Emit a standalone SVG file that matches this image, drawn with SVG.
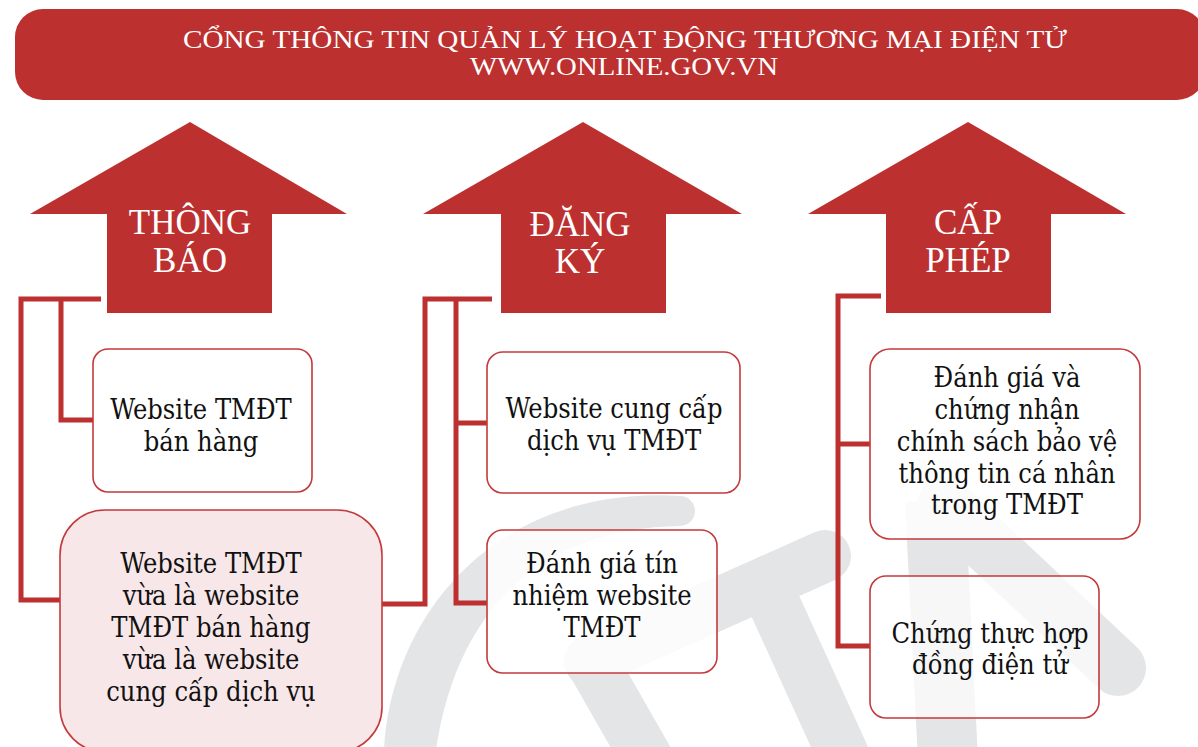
<svg xmlns="http://www.w3.org/2000/svg" width="1198" height="747" viewBox="0 0 1198 747">
<style>
.hd{font-family:"Liberation Serif","Times New Roman",serif;fill:#fff;font-size:26px;text-anchor:middle}
.al{font-family:"Liberation Serif","Times New Roman",serif;fill:#fff;font-size:35px;text-anchor:middle}
.arrow{fill:#BC3130}
.box{fill:#fff;fill-opacity:0.85;stroke:#C43A3C;stroke-width:1.6}
.pink{fill:#F8E7E8;stroke:#C43A3C;stroke-width:1.6}
.tx{font-family:"DejaVu Serif","Liberation Serif",serif;font-stretch:condensed;font-size:27px;fill:#111;text-anchor:middle}
.wm{stroke:#E4E5E7;fill:none}
.cn{stroke:#BC3130;stroke-width:5;fill:none;stroke-linejoin:miter}
</style>
<rect width="1198" height="747" fill="#fff"/>
<g id="watermark">
<path d="M384 750 C392 610 500 485 680 496 A15 15 0 0 1 680 526 C560 528 460 590 436 750 Z" fill="#E4E5E7"/>
<line class="wm" x1="590" y1="661" x2="825" y2="556" stroke-width="52" stroke-linecap="round"/>
<line class="wm" x1="585" y1="650" x2="665" y2="790" stroke-width="52"/>
<line class="wm" x1="768" y1="590" x2="850" y2="770" stroke-width="52"/>
<line class="wm" x1="935" y1="500" x2="948" y2="760" stroke-width="60"/>
<line class="wm" x1="945" y1="505" x2="1118" y2="668" stroke-width="56" stroke-linecap="round"/>
</g>
<g id="header">
<rect x="15" y="9" width="1190" height="91" rx="28" fill="#BC3130"/>
<text class="hd" x="625" y="48" textLength="884" lengthAdjust="spacingAndGlyphs">CỔNG THÔNG TIN QUẢN LÝ HOẠT ĐỘNG THƯƠNG MẠI ĐIỆN TỬ</text>
<text class="hd" x="624" y="75" textLength="308" lengthAdjust="spacingAndGlyphs">WWW.ONLINE.GOV.VN</text>
</g>
<g id="arrow-thongbao">
<polygon class="arrow" points="190,122 347,214 272,214 272,313 107,313 107,214 30,214"/>
<text class="al" x="190" y="234">THÔNG</text>
<text class="al" x="190" y="272">BÁO</text>
</g>
<g id="arrow-dangky">
<polygon class="arrow" points="583,122 742,214 666,214 666,313 501,313 501,214 423,214"/>
<text class="al" x="580" y="236">ĐĂNG</text>
<text class="al" x="580" y="273">KÝ</text>
</g>
<g id="arrow-capphep">
<polygon class="arrow" points="968,122 1126,214 1051,214 1051,313 886,313 886,214 808,214"/>
<text class="al" x="968" y="234">CẤP</text>
<text class="al" x="968" y="272">PHÉP</text>
</g>
<g id="connectors">
<path class="cn" d="M101 299 H21 V600 H61"/>
<path class="cn" d="M61 299 V420 H93"/>
<path class="cn" d="M382 604 H425 V299 H492"/>
<path class="cn" d="M456 299 V603 H487"/>
<path class="cn" d="M456 423 H487"/>
<path class="cn" d="M881 296 H838 V646 H870"/>
<path class="cn" d="M838 444 H870"/>
</g>
<g id="node-ban-hang">
<rect class="box" x="93" y="349" width="219" height="143" rx="15"/>
<text class="tx" x="201" y="419">Website TMĐT</text>
<text class="tx" x="201" y="451">bán hàng</text>
</g>
<g id="node-vua-la">
<rect class="pink" x="60" y="510" width="322" height="242" rx="45"/>
<text class="tx" x="211" y="573">Website TMĐT</text>
<text class="tx" x="211" y="605">vừa là website</text>
<text class="tx" x="211" y="637">TMĐT bán hàng</text>
<text class="tx" x="211" y="669">vừa là website</text>
<text class="tx" x="211" y="701">cung cấp dịch vụ</text>
</g>
<g id="node-cung-cap">
<rect class="box" x="487" y="352" width="253" height="141" rx="16"/>
<text class="tx" x="614" y="418">Website cung cấp</text>
<text class="tx" x="614" y="450">dịch vụ TMĐT</text>
</g>
<g id="node-tin-nhiem">
<rect class="box" x="487" y="530" width="230" height="143" rx="16"/>
<text class="tx" x="602" y="573">Đánh giá tín</text>
<text class="tx" x="602" y="605">nhiệm website</text>
<text class="tx" x="602" y="637">TMĐT</text>
</g>
<g id="node-bao-ve">
<rect class="box" x="870" y="349" width="270" height="190" rx="20"/>
<text class="tx" x="1007" y="387">Đánh giá và</text>
<text class="tx" x="1007" y="419">chứng nhận</text>
<text class="tx" x="1007" y="451">chính sách bảo vệ</text>
<text class="tx" x="1007" y="483">thông tin cá nhân</text>
<text class="tx" x="1007" y="514">trong TMĐT</text>
</g>
<g id="node-hop-dong">
<rect class="box" x="870" y="576" width="229" height="142" rx="16" style="fill-opacity:0.7"/>
<text class="tx" x="990" y="643">Chứng thực hợp</text>
<text class="tx" x="990" y="674">đồng điện tử</text>
</g>
</svg>
